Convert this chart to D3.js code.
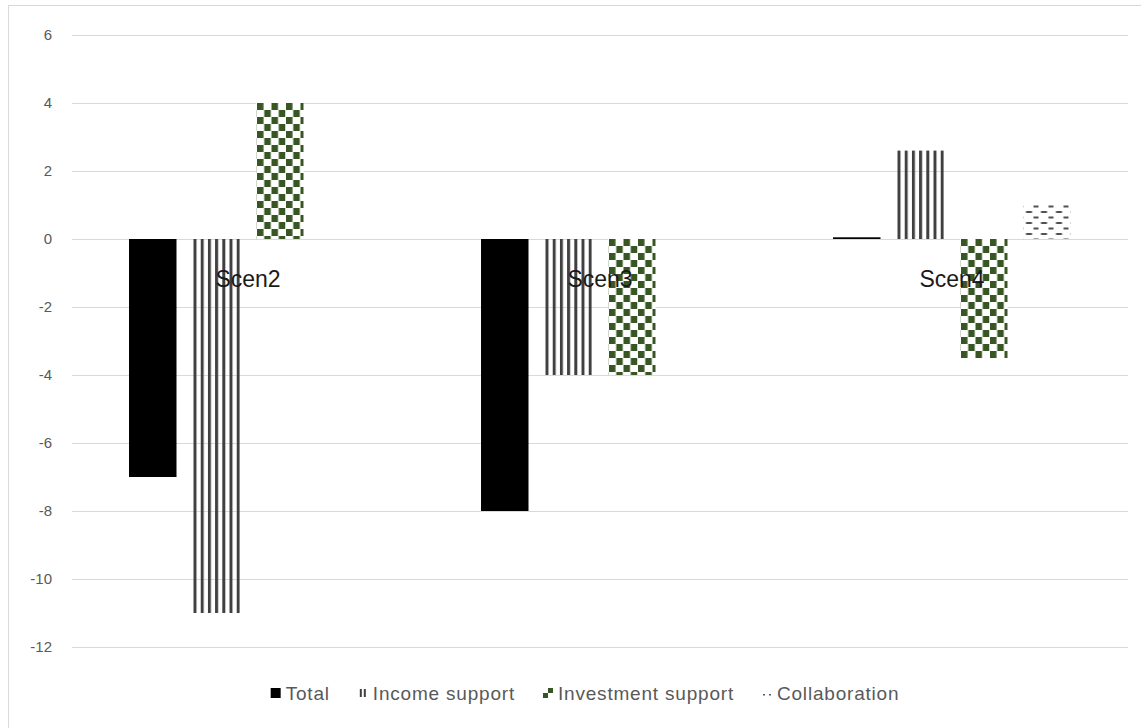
<!DOCTYPE html>
<html>
<head>
<meta charset="utf-8">
<script src="https://cdn.jsdelivr.net/npm/d3@7/dist/d3.min.js"></script>
<style>
  html, body { margin: 0; padding: 0; background: #fff; }
  svg { display: block; }
</style>
</head>
<body>
<svg id="chart" width="1141" height="728"></svg>
<script>
const categories = ["Scen2", "Scen3", "Scen4"];
const seriesNames = ["Total", "Income support", "Investment support", "Collaboration"];
const totalValues = [-7, -8, 0.05];
const incomeValues = [-11, -4, 2.6];
const investmentValues = [4, -4, -3.5];
const collaborationValues = [0, 0, 1.0];
const yTicks = [6, 4, 2, 0, -2, -4, -6, -8, -10, -12];

const seriesValues = [totalValues, incomeValues, investmentValues, collaborationValues];
const seriesKeys = ["total", "income", "invest", "collab"];

const svg = d3.select("#chart");
const W = 1141, H = 728;
const plot = { left: 72, right: 1128, top: 35, bottom: 647 };

// chart border (left and top visible)
svg.append("line").attr("x1", 8.5).attr("x2", 8.5).attr("y1", 5).attr("y2", H).attr("stroke", "#d9d9d9");
svg.append("line").attr("x1", 8).attr("x2", W).attr("y1", 5.5).attr("y2", 5.5).attr("stroke", "#d9d9d9");

const y = d3.scaleLinear().domain([-12, 6]).range([plot.bottom, plot.top]);
const x0 = d3.scaleBand().domain(categories).range([plot.left, plot.right]).padding(0);
const x1 = d3.scaleBand().domain(seriesKeys).range([0, x0.bandwidth()]).paddingInner(0.252).paddingOuter(0.898);

// gridlines + tick labels via axis
const yAxis = d3.axisLeft(y).tickValues(yTicks).tickSize(-(plot.right - plot.left)).tickPadding(20).tickFormat(d => String(d));
const gAxis = svg.append("g").attr("transform", `translate(${plot.left},0)`).call(yAxis);
gAxis.select(".domain").remove();
gAxis.selectAll(".tick line").attr("stroke", "#d9d9d9").attr("stroke-width", 1);
gAxis.selectAll(".tick text").attr("fill", "#595959").attr("font-family", "Liberation Sans, Arial, sans-serif").attr("font-size", 15);

const defs = svg.append("defs");

function makePattern(id, key, px, py) {
  if (key === "income") {
    const p = defs.append("pattern").attr("id", id).attr("patternUnits", "userSpaceOnUse")
      .attr("x", px + 1).attr("y", py).attr("width", 7.2).attr("height", 10);
    p.append("rect").attr("x", 0).attr("y", 0).attr("width", 3).attr("height", 10).attr("fill", "#404040");
  } else if (key === "invest") {
    const p = defs.append("pattern").attr("id", id).attr("patternUnits", "userSpaceOnUse")
      .attr("x", px + 1).attr("y", py).attr("width", 14.5).attr("height", 14);
    p.append("rect").attr("width", 14.5).attr("height", 14).attr("fill", "#fff");
    p.append("rect").attr("x", 0).attr("y", 0).attr("width", 6.5).attr("height", 7).attr("fill", "#375623");
    p.append("rect").attr("x", 7.25).attr("y", 7).attr("width", 6.5).attr("height", 7).attr("fill", "#375623");
  } else if (key === "collab") {
    const p = defs.append("pattern").attr("id", id).attr("patternUnits", "userSpaceOnUse")
      .attr("x", px).attr("y", py).attr("width", 15).attr("height", 11);
    p.append("rect").attr("width", 15).attr("height", 11).attr("fill", "#fff");
    p.append("rect").attr("x", 10).attr("y", 0.5).attr("width", 6).attr("height", 2).attr("fill", "#505050");
    p.append("rect").attr("x", 2.5).attr("y", 6).attr("width", 6).attr("height", 2).attr("fill", "#505050");
  }
}

// bars
const barData = [];
categories.forEach((c, ci) => {
  seriesKeys.forEach((k, si) => {
    barData.push({ cat: c, key: k, value: seriesValues[si][ci], ci, si });
  });
});

const gBars = svg.append("g");
barData.forEach((d, i) => {
  if (d.value === 0) return;
  const bx = x0(d.cat) + x1(d.key);
  const by = y(Math.max(0, d.value));
  const bh = Math.abs(y(d.value) - y(0));
  let fill = "#000";
  if (d.key !== "total") {
    const id = `pat-${i}`;
    makePattern(id, d.key, bx, by);
    fill = `url(#${id})`;
  }
  gBars.append("rect").attr("x", bx).attr("y", by).attr("width", x1.bandwidth()).attr("height", Math.max(bh, 1.5)).attr("fill", fill);
});

// category labels (drawn at the zero line, inside plot)
svg.append("g").selectAll("text").data(categories).join("text")
  .attr("x", d => x0(d) + x0.bandwidth() / 2)
  .attr("y", y(0) + 48)
  .attr("text-anchor", "middle")
  .attr("font-family", "Liberation Sans, Arial, sans-serif")
  .attr("font-size", 23)
  .attr("fill", "#1a1a1a")
  .text(d => d);

// legend
const legend = svg.append("g");
const legendY = 693;
const items = legend.selectAll("g").data(seriesNames).join("g");
items.append("text").attr("class", "lt")
  .attr("font-family", "Liberation Sans, Arial, sans-serif")
  .attr("font-size", 19)
  .attr("letter-spacing", 0.8)
  .attr("fill", "#595959")
  .attr("dy", "0.35em")
  .text(d => d);
const widths = items.nodes().map(n => n.querySelector("text").getComputedTextLength());
const swatchW = 15, gap = 28;
const total = d3.sum(widths) + seriesNames.length * swatchW + gap * (seriesNames.length - 1);
let cx = 585 - total / 2;
items.each(function(d, i) {
  const g = d3.select(this).attr("transform", `translate(${cx},${legendY})`);
  g.select("text").attr("x", swatchW);
  const key = seriesKeys[i];
  if (key === "total") {
    g.insert("rect", "text").attr("x", 0).attr("y", -5).attr("width", 10).attr("height", 10).attr("fill", "#000");
  } else if (key === "income") {
    g.insert("rect", "text").attr("x", 2).attr("y", -4).attr("width", 2).attr("height", 8).attr("fill", "#404040");
    g.insert("rect", "text").attr("x", 6).attr("y", -4).attr("width", 2).attr("height", 8).attr("fill", "#404040");
  } else if (key === "invest") {
    g.insert("rect", "text").attr("x", 5).attr("y", -5).attr("width", 5).attr("height", 5).attr("fill", "#375623");
    g.insert("rect", "text").attr("x", 0).attr("y", 0).attr("width", 5).attr("height", 5).attr("fill", "#375623");
  } else {
    g.insert("rect", "text").attr("x", 1).attr("y", 1).attr("width", 2).attr("height", 1.5).attr("fill", "#595959");
    g.insert("rect", "text").attr("x", 7).attr("y", 1).attr("width", 2).attr("height", 1.5).attr("fill", "#595959");
  }
  cx += swatchW + widths[i] + gap;
});
</script>
</body>
</html>
